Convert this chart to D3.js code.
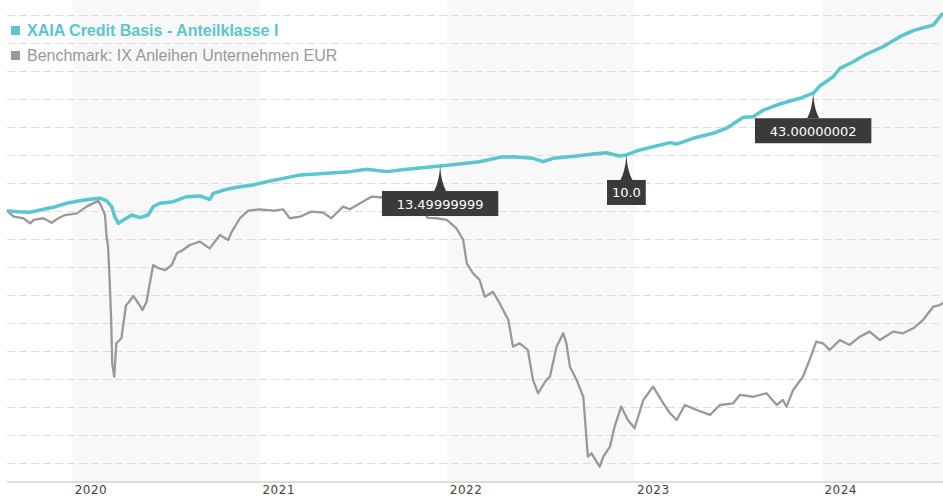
<!DOCTYPE html>
<html>
<head>
<meta charset="utf-8">
<script src="https://cdn.jsdelivr.net/npm/d3@7"></script>
<style>
  body { margin: 0; background: #fff; }
  svg { display: block; }
</style>
</head>
<body>
<svg id="chart" width="943" height="500"></svg>
<script>
// series names (legend)
const seriesNames = ["XAIA Credit Basis - Anteilklasse I", "Benchmark: IX Anleihen Unternehmen EUR"];

// XAIA performance since start (%)
const xaiaDates = [
  "2019-08-27", "2019-09-16", "2019-10-11", "2019-11-06", "2019-11-25", "2019-12-21",
  "2020-01-16", "2020-02-05", "2020-02-24", "2020-03-08", "2020-03-18", "2020-03-24",
  "2020-03-31", "2020-04-10", "2020-04-26", "2020-05-12", "2020-05-28", "2020-06-07",
  "2020-06-20", "2020-07-16", "2020-08-11", "2020-09-06", "2020-09-25", "2020-10-02",
  "2020-10-28", "2020-11-23", "2020-12-19", "2021-01-14", "2021-02-15", "2021-03-20",
  "2021-04-21", "2021-05-11", "2021-06-25", "2021-07-28", "2021-09-05", "2021-10-14",
  "2021-12-18", "2022-01-25", "2022-03-05", "2022-04-13", "2022-05-09", "2022-06-17",
  "2022-07-07", "2022-07-26", "2022-09-10", "2022-10-12", "2022-11-07", "2022-12-03",
  "2022-12-16", "2023-01-11", "2023-02-06", "2023-03-11", "2023-03-24", "2023-04-25",
  "2023-06-03", "2023-06-29", "2023-08-01", "2023-08-20", "2023-09-09", "2023-10-11",
  "2023-11-19", "2023-12-15", "2023-12-28", "2024-01-23", "2024-02-05", "2024-03-02",
  "2024-03-28", "2024-04-29", "2024-06-01", "2024-06-27", "2024-08-05", "2024-08-18",
  "2024-08-24"
];
const xaiaValues = [
  0.00, -0.07, -0.11, 0.10, 0.24, 0.53,
  0.71, 0.81, 0.89, 0.71, 0.29, -0.43,
  -0.90, -0.66, -0.31, -0.50, -0.31, 0.29,
  0.53, 0.64, 1.00, 1.05, 0.81, 1.24,
  1.53, 1.71, 1.84, 2.07, 2.31, 2.55,
  2.62, 2.67, 2.79, 2.96, 2.79, 2.96,
  3.19, 3.34, 3.50, 3.81, 3.86, 3.74,
  3.50, 3.74, 3.91, 4.05, 4.14, 3.91,
  3.98, 4.34, 4.57, 4.86, 4.76, 5.17,
  5.53, 5.89, 6.67, 6.71, 7.19, 7.62,
  8.03, 8.39, 8.91, 9.57, 10.17, 10.64,
  11.19, 11.71, 12.43, 12.86, 13.26, 13.86,
  14.12
];

// Benchmark performance since start (%)
const benchDates = [
  "2019-08-27", "2019-09-09", "2019-09-28", "2019-10-11", "2019-10-18", "2019-11-06",
  "2019-11-22", "2019-12-05", "2019-12-18", "2020-01-10", "2020-01-29", "2020-02-21",
  "2020-02-27", "2020-03-05", "2020-03-08", "2020-03-11", "2020-03-14", "2020-03-17",
  "2020-03-19", "2020-03-23", "2020-03-27", "2020-04-06", "2020-04-09", "2020-04-15",
  "2020-04-19", "2020-04-29", "2020-05-09", "2020-05-17", "2020-05-25", "2020-05-30",
  "2020-06-07", "2020-06-17", "2020-06-30", "2020-07-13", "2020-07-23", "2020-08-04",
  "2020-08-17", "2020-09-06", "2020-09-25", "2020-10-15", "2020-10-31", "2020-11-07",
  "2020-11-23", "2020-12-09", "2021-01-01", "2021-01-27", "2021-02-15", "2021-02-28",
  "2021-03-20", "2021-04-11", "2021-05-04", "2021-05-20", "2021-06-12", "2021-06-25",
  "2021-08-06", "2021-08-23", "2021-10-01", "2021-11-09", "2021-11-24", "2021-12-11",
  "2021-12-31", "2022-01-19", "2022-02-01", "2022-02-08", "2022-02-20", "2022-03-05",
  "2022-03-15", "2022-03-31", "2022-04-13", "2022-04-30", "2022-05-09", "2022-05-22",
  "2022-06-07", "2022-06-17", "2022-06-27", "2022-07-13", "2022-07-20", "2022-08-02",
  "2022-08-15", "2022-08-21", "2022-08-28", "2022-09-10", "2022-09-23", "2022-10-02",
  "2022-10-09", "2022-10-25", "2022-11-01", "2022-11-14", "2022-11-23", "2022-12-06",
  "2022-12-19", "2023-01-01", "2023-01-18", "2023-02-06", "2023-02-26", "2023-03-11",
  "2023-03-24", "2023-04-09", "2023-05-02", "2023-05-28", "2023-06-16", "2023-07-12",
  "2023-07-25", "2023-08-20", "2023-09-15", "2023-10-05", "2023-10-17", "2023-10-24",
  "2023-11-06", "2023-11-25", "2023-12-08", "2023-12-21", "2024-01-03", "2024-01-16",
  "2024-02-05", "2024-02-24", "2024-03-15", "2024-04-03", "2024-04-23", "2024-05-19",
  "2024-06-07", "2024-06-27", "2024-07-16", "2024-08-05", "2024-08-18", "2024-08-24"
];
const benchValues = [
  0.00, -0.43, -0.54, -0.90, -0.66, -0.54,
  -0.86, -0.54, -0.31, -0.19, 0.29, 0.71,
  0.29, -0.31, -1.86, -2.57, -4.95, -7.81,
  -10.90, -11.86, -9.47, -9.11, -8.29, -6.74,
  -6.61, -6.09, -6.61, -7.09, -6.50, -5.43,
  -3.88, -4.11, -4.24, -3.88, -3.04, -2.81,
  -2.45, -2.21, -2.69, -1.74, -2.09, -1.50,
  -0.54, 0.00, 0.10, 0.00, 0.10, -0.54,
  -0.43, -0.07, -0.14, -0.54, 0.29, 0.10,
  1.00, 0.96, 0.76, 0.41, -0.52, -0.54,
  -0.66, -1.26, -2.09, -3.76, -4.47, -4.95,
  -6.14, -5.79, -6.61, -7.81, -9.71, -9.47,
  -9.95, -12.09, -13.04, -12.09, -11.86, -9.71,
  -8.76, -9.47, -11.14, -12.09, -13.29, -17.57,
  -17.33, -18.29, -17.57, -16.86, -15.43, -14.00,
  -14.95, -15.54, -13.52, -12.57, -13.76, -14.47,
  -14.95, -13.88, -14.24, -14.59, -13.88, -13.76,
  -13.16, -13.29, -13.04, -13.88, -13.52, -14.00,
  -12.81, -11.86, -10.66, -9.36, -9.47, -9.95,
  -9.24, -9.59, -9.00, -8.64, -9.24, -8.64,
  -8.76, -8.40, -7.81, -6.86, -6.74, -6.59
];

// markers on the XAIA line
const annotationDates = ["2021-12-18", "2022-12-16", "2023-12-15"];
const annotationLabels = ["13.49999999", "10.0", "43.00000002"];

const width = 943, height = 500;
const plotLeft = 7, plotRight = 943, plotTop = 0, plotBottom = 482;
const tealColor = "#5bc6ce";
const greyColor = "#999999";

const parseDate = d3.timeParse("%Y-%m-%d");
const xaia = xaiaDates.map((d, i) => ({ date: parseDate(d), value: xaiaValues[i] }));
const bench = benchDates.map((d, i) => ({ date: parseDate(d), value: benchValues[i] }));

const svg = d3.select("#chart");

const x = d3.scaleTime()
  .domain(d3.extent(xaia.concat(bench), d => d.date))
  .range([plotLeft, plotRight]);

const y = d3.scaleLinear()
  .domain([-19.38, 15.05])
  .range([plotBottom, plotTop]);

// alternating year bands
const years = d3.timeYear.range(d3.timeYear.floor(x.domain()[0]), x.domain()[1]);
svg.append("g")
  .selectAll("rect")
  .data(years.filter(d => d.getFullYear() % 2 === 0))
  .join("rect")
  .attr("x", d => Math.max(plotLeft, x(d)))
  .attr("y", plotTop)
  .attr("width", d => Math.min(plotRight, x(d3.timeYear.offset(d, 1))) - Math.max(plotLeft, x(d)))
  .attr("height", plotBottom - plotTop)
  .attr("fill", "#f8f8f8");

// dashed horizontal grid
svg.append("g")
  .selectAll("line")
  .data(y.ticks(17))
  .join("line")
  .attr("x1", plotLeft)
  .attr("x2", plotRight)
  .attr("y1", d => Math.round(y(d)) + 0.5)
  .attr("y2", d => Math.round(y(d)) + 0.5)
  .attr("stroke", "#dcdcdc")
  .attr("stroke-width", 1)
  .attr("stroke-dasharray", "8,4");

// x axis
const xAxis = svg.append("g")
  .attr("transform", `translate(0,${plotBottom})`)
  .call(d3.axisBottom(x).ticks(d3.timeYear.every(1)).tickSize(0).tickFormat(d3.timeFormat("%Y")));
xAxis.select(".domain").remove();
xAxis.append("line")
  .attr("x1", plotLeft)
  .attr("x2", plotRight)
  .attr("stroke", "#dddddd")
  .attr("stroke-width", 2);
xAxis.selectAll(".tick text")
  .attr("y", 12)
  .attr("dy", null)
  .attr("x", 2)
  .attr("text-anchor", "start")
  .attr("fill", "#444444")
  .style("font-family", "DejaVu Sans")
  .style("font-size", "12px")
  .style("letter-spacing", "0.5px");

const line = d3.line()
  .x(d => x(d.date))
  .y(d => y(d.value));

svg.append("path")
  .datum(bench)
  .attr("d", line)
  .attr("fill", "none")
  .attr("stroke", greyColor)
  .attr("stroke-width", 2.3)
  .attr("stroke-linejoin", "round");

svg.append("path")
  .datum(xaia)
  .attr("d", line)
  .attr("fill", "none")
  .attr("stroke", tealColor)
  .attr("stroke-width", 3.5)
  .attr("stroke-linejoin", "round");

// annotation flags
const bisect = d3.bisector(d => d.date).left;
const flags = svg.append("g")
  .selectAll("g")
  .data(annotationDates.map((d, i) => {
    const dt = parseDate(d);
    const p = xaia[Math.min(bisect(xaia, dt), xaia.length - 1)];
    return { x: x(dt), y: y(p.value), label: annotationLabels[i] };
  }))
  .join("g");

flags.append("path")
  .attr("d", d => {
    const top = d.y + 25;
    return `M${d.x},${d.y} Q${d.x + 1},${top - 9} ${d.x + 6},${top} L${d.x - 6},${top} Q${d.x - 1},${top - 9} ${d.x},${d.y} Z`;
  })
  .attr("fill", "#3a3a3a");

flags.append("text")
  .attr("x", d => d.x)
  .attr("y", d => d.y + 25 + 17.5)
  .attr("text-anchor", "middle")
  .attr("fill", "#ffffff")
  .style("font-family", "DejaVu Sans")
  .style("font-size", "13px")
  .text(d => d.label)
  .each(function (d) { d.w = this.getComputedTextLength() * 1.34; });

flags.insert("rect", "text")
  .attr("x", d => d.x - d.w / 2)
  .attr("y", d => d.y + 25)
  .attr("width", d => d.w)
  .attr("height", 25)
  .attr("fill", "#3a3a3a");

// legend
const legend = svg.append("g")
  .selectAll("g")
  .data(seriesNames)
  .join("g")
  .attr("transform", (d, i) => `translate(11,${26 + i * 25})`);

legend.append("rect")
  .attr("width", 9)
  .attr("height", 9)
  .attr("fill", (d, i) => i === 0 ? tealColor : greyColor);

legend.append("text")
  .attr("x", 16)
  .attr("y", 9.5)
  .attr("fill", (d, i) => i === 0 ? tealColor : greyColor)
  .style("font-family", "Liberation Sans, Arial, sans-serif")
  .style("font-size", "16px")
  .style("font-weight", (d, i) => i === 0 ? "bold" : "normal")
  .text(d => d);
</script>
</body>
</html>
